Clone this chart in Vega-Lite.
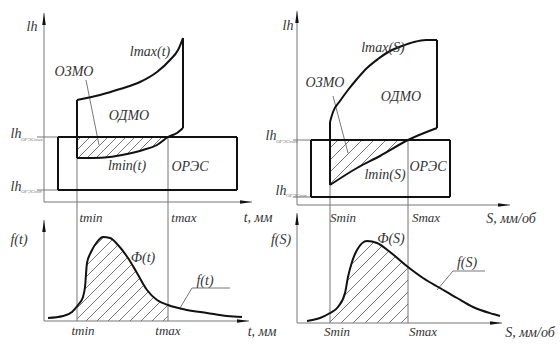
{
"$schema":"https://vega.github.io/schema/vega-lite/v6.json",
"width":560,"height":344,"autosize":"none","padding":0,"background":"white",
"config":{"view":{"stroke":null},"text":{"font":"Liberation Sans Narrow","fontStyle":"italic","color":"#333"}},
"datasets":{
"hatch":[
{"x":77,"y":141,"x2":81,"y2":137},{"x":77,"y":150,"x2":90,"y2":137},{"x":77,"y":159,"x2":99,"y2":137},{"x":86,"y":159,"x2":108,"y2":137},{"x":95,"y":159,"x2":117,"y2":137},{"x":104,"y":159,"x2":126,"y2":137},{"x":113,"y":159,"x2":135,"y2":137},{"x":122,"y":159,"x2":144,"y2":137},{"x":131,"y":159,"x2":153,"y2":137},{"x":140,"y":159,"x2":162,"y2":137},{"x":149,"y":159,"x2":168,"y2":140},{"x":158,"y":159,"x2":168,"y2":149},{"x":167,"y":159,"x2":168,"y2":158},
{"x":330,"y":148,"x2":338,"y2":140},{"x":330,"y":160,"x2":350,"y2":140},{"x":330,"y":172,"x2":362,"y2":140},{"x":330,"y":184,"x2":374,"y2":140},{"x":340,"y":186,"x2":386,"y2":140},{"x":352,"y":186,"x2":398,"y2":140},{"x":364,"y":186,"x2":408,"y2":142},{"x":376,"y":186,"x2":408,"y2":154},{"x":388,"y":186,"x2":408,"y2":166},{"x":400,"y":186,"x2":408,"y2":178},
{"x":77,"y":253,"x2":93,"y2":237},{"x":77,"y":264,"x2":104,"y2":237},{"x":77,"y":275,"x2":115,"y2":237},{"x":77,"y":286,"x2":126,"y2":237},{"x":77,"y":297,"x2":137,"y2":237},{"x":77,"y":308,"x2":148,"y2":237},{"x":77,"y":319,"x2":159,"y2":237},{"x":86,"y":321,"x2":168,"y2":239},{"x":97,"y":321,"x2":168,"y2":250},{"x":108,"y":321,"x2":168,"y2":261},{"x":119,"y":321,"x2":168,"y2":272},{"x":130,"y":321,"x2":168,"y2":283},{"x":141,"y":321,"x2":168,"y2":294},{"x":152,"y":321,"x2":168,"y2":305},{"x":163,"y":321,"x2":168,"y2":316},
{"x":330,"y":250,"x2":340,"y2":240},{"x":330,"y":262,"x2":352,"y2":240},{"x":330,"y":274,"x2":364,"y2":240},{"x":330,"y":286,"x2":376,"y2":240},{"x":330,"y":298,"x2":388,"y2":240},{"x":330,"y":310,"x2":400,"y2":240},{"x":330,"y":322,"x2":408,"y2":244},{"x":341,"y":323,"x2":408,"y2":256},{"x":353,"y":323,"x2":408,"y2":268},{"x":365,"y":323,"x2":408,"y2":280},{"x":377,"y":323,"x2":408,"y2":292},{"x":389,"y":323,"x2":408,"y2":304},{"x":401,"y":323,"x2":408,"y2":316}
],
"curves":[
{"id":"lmaxt","x":77,"y":100},{"id":"lmaxt","x":100,"y":95},{"id":"lmaxt","x":120,"y":89},{"id":"lmaxt","x":140,"y":82},{"id":"lmaxt","x":157,"y":72},{"id":"lmaxt","x":170,"y":60},{"id":"lmaxt","x":178,"y":50},{"id":"lmaxt","x":183,"y":38},
{"id":"lmint","x":77,"y":158},{"id":"lmint","x":93,"y":158},{"id":"lmint","x":110,"y":157},{"id":"lmint","x":127,"y":154},{"id":"lmint","x":143,"y":150},{"id":"lmint","x":157,"y":145},{"id":"lmint","x":168,"y":137},{"id":"lmint","x":177,"y":133},{"id":"lmint","x":183,"y":128},
{"id":"ft","x":48,"y":318},{"id":"ft","x":63,"y":316},{"id":"ft","x":72,"y":312},{"id":"ft","x":78,"y":305},{"id":"ft","x":83,"y":297},{"id":"ft","x":85,"y":287},{"id":"ft","x":87,"y":263},{"id":"ft","x":91,"y":252},{"id":"ft","x":97,"y":242},{"id":"ft","x":103,"y":237},{"id":"ft","x":110,"y":238},{"id":"ft","x":118,"y":245},{"id":"ft","x":128,"y":258},{"id":"ft","x":137,"y":273},{"id":"ft","x":147,"y":290},{"id":"ft","x":157,"y":300},{"id":"ft","x":168,"y":305},{"id":"ft","x":187,"y":310},{"id":"ft","x":207,"y":313},{"id":"ft","x":227,"y":316},{"id":"ft","x":242,"y":317},
{"id":"lmaxs","x":330,"y":122},{"id":"lmaxs","x":333,"y":112},{"id":"lmaxs","x":340,"y":101},{"id":"lmaxs","x":348,"y":90},{"id":"lmaxs","x":357,"y":79},{"id":"lmaxs","x":367,"y":68},{"id":"lmaxs","x":378,"y":59},{"id":"lmaxs","x":390,"y":51},{"id":"lmaxs","x":402,"y":46},{"id":"lmaxs","x":414,"y":42},{"id":"lmaxs","x":426,"y":40},{"id":"lmaxs","x":437,"y":40},
{"id":"lmins","x":330,"y":185},{"id":"lmins","x":357,"y":168},{"id":"lmins","x":380,"y":156},{"id":"lmins","x":408,"y":140},{"id":"lmins","x":437,"y":128},
{"id":"fs","x":307,"y":321},{"id":"fs","x":320,"y":318},{"id":"fs","x":330,"y":313},{"id":"fs","x":338,"y":307},{"id":"fs","x":345,"y":293},{"id":"fs","x":348,"y":277},{"id":"fs","x":352,"y":262},{"id":"fs","x":357,"y":250},{"id":"fs","x":367,"y":241},{"id":"fs","x":377,"y":243},{"id":"fs","x":390,"y":252},{"id":"fs","x":408,"y":267},{"id":"fs","x":423,"y":278},{"id":"fs","x":440,"y":288},{"id":"fs","x":457,"y":298},{"id":"fs","x":473,"y":307},{"id":"fs","x":493,"y":314},{"id":"fs","x":500,"y":316}
],
"thin":[
{"x":44,"y":202,"x2":44,"y2":13},{"x":44,"y":202,"x2":252,"y2":202},{"x":37,"y":137,"x2":58,"y2":137},{"x":37,"y":190,"x2":58,"y2":190},
{"x":77,"y":158,"x2":77,"y2":321},{"x":168,"y":137,"x2":168,"y2":321},
{"x":44,"y":321,"x2":44,"y2":220},{"x":44,"y":321,"x2":249,"y2":321},
{"x":86,"y":80,"x2":99,"y2":145},{"x":180,"y":308,"x2":192,"y2":288},{"x":192,"y":288,"x2":230,"y2":288},
{"x":297,"y":205,"x2":297,"y2":11},{"x":297,"y":205,"x2":510,"y2":205},{"x":293,"y":140,"x2":311,"y2":140},{"x":293,"y":197,"x2":311,"y2":197},
{"x":330,"y":185,"x2":330,"y2":323},{"x":408,"y":140,"x2":408,"y2":323},
{"x":297,"y":323,"x2":297,"y2":213},{"x":297,"y":323,"x2":502,"y2":323},
{"x":333,"y":96,"x2":348,"y2":153},{"x":437,"y":290,"x2":453,"y2":271},{"x":453,"y":271,"x2":485,"y2":271}
],
"thick":[
{"x":58,"y":137,"x2":237,"y2":137},{"x":58,"y":190,"x2":237,"y2":190},{"x":58,"y":137,"x2":58,"y2":190},{"x":237,"y":137,"x2":237,"y2":190},
{"x":77,"y":100,"x2":77,"y2":158},{"x":183,"y":38,"x2":183,"y2":128},
{"x":311,"y":140,"x2":450,"y2":140},{"x":311,"y":197,"x2":450,"y2":197},{"x":311,"y":140,"x2":311,"y2":197},{"x":450,"y":140,"x2":450,"y2":197},
{"x":330,"y":122,"x2":330,"y2":185},{"x":437,"y":40,"x2":437,"y2":128}
],
"arrows":[
{"dir":"up","x":44,"y":19},{"dir":"right","x":246,"y":202},{"dir":"up","x":44,"y":226},{"dir":"right","x":243,"y":321},
{"dir":"up","x":297,"y":17},{"dir":"right","x":504,"y":205},{"dir":"up","x":297,"y":219},{"dir":"right","x":496,"y":323}
],
"labels":[
{"x":32,"y":27,"t":"lh"},{"x":150,"y":52,"t":"lmax(t)"},{"x":74,"y":72,"t":"ОЗМО"},{"x":129,"y":116,"t":"ОДМО"},{"x":127,"y":166,"t":"lmin(t)"},{"x":190,"y":167,"t":"ОРЭС"},
{"x":258,"y":218,"t":"t, мм"},{"x":19,"y":240,"t":"f(t)"},{"x":143,"y":258,"t":"Ф(t)"},{"x":205,"y":281,"t":"f(t)"},{"x":262,"y":332,"t":"t, мм"},
{"x":288,"y":26,"t":"lh"},{"x":383,"y":48,"t":"lmax(S)"},{"x":325,"y":83,"t":"ОЗМО"},{"x":401,"y":97,"t":"ОДМО"},{"x":385,"y":175,"t":"lmin(S)"},{"x":428,"y":167,"t":"ОРЭС"},
{"x":511,"y":219,"t":"S, мм/об"},{"x":281,"y":240,"t":"f(S)"},{"x":391,"y":239,"t":"Ф(S)"},{"x":467,"y":263,"t":"f(S)"},{"x":530,"y":333,"t":"S, мм/об"},
{"x":16,"y":134,"t":"lh"},{"x":16,"y":187,"t":"lh"},{"x":271,"y":136,"t":"lh"},{"x":281,"y":191,"t":"lh"}
],
"ticks":[
{"x":91,"y":218,"t":"tmin"},{"x":184,"y":218,"t":"tmax"},{"x":83,"y":331,"t":"tmin"},{"x":168,"y":331,"t":"tmax"},
{"x":343,"y":218,"t":"Smin"},{"x":426,"y":218,"t":"Smax"},{"x":337,"y":332,"t":"Smin"},{"x":423,"y":332,"t":"Smax"}
],
"subs":[
{"x":21,"y":139,"t":"ОРЭСmax"},{"x":21,"y":191,"t":"ОРЭСmin"},{"x":276,"y":141,"t":"ОРЭСmax"},{"x":286,"y":195,"t":"ОРЭСmin"}
]
},
"encoding":{
"x":{"field":"x","type":"quantitative","scale":{"domain":[0,560],"nice":false,"zero":false},"axis":null},
"y":{"field":"y","type":"quantitative","scale":{"domain":[0,344],"nice":false,"zero":false,"reverse":true},"axis":null}
},
"layer":[
{"data":{"name":"hatch"},"mark":{"type":"rule","stroke":"#555","strokeWidth":0.8},"encoding":{"x2":{"field":"x2"},"y2":{"field":"y2"}}},
{"data":{"name":"curves"},"transform":[{"filter":"datum.id=='lmint'"}],"mark":{"type":"area","fill":"white","interpolate":"monotone"},"encoding":{"y2":{"datum":160}}},
{"data":{"name":"curves"},"transform":[{"filter":"datum.id=='lmins'"}],"mark":{"type":"area","fill":"white","interpolate":"monotone"},"encoding":{"y2":{"datum":187}}},
{"data":{"name":"curves"},"transform":[{"filter":"datum.id=='ft'"}],"mark":{"type":"area","fill":"white","interpolate":"monotone"},"encoding":{"y2":{"datum":236}}},
{"data":{"name":"curves"},"transform":[{"filter":"datum.id=='fs'"}],"mark":{"type":"area","fill":"white","interpolate":"monotone"},"encoding":{"y2":{"datum":239}}},
{"data":{"name":"thin"},"mark":{"type":"rule","stroke":"#777","strokeWidth":1},"encoding":{"x2":{"field":"x2"},"y2":{"field":"y2"}}},
{"data":{"name":"thick"},"mark":{"type":"rule","stroke":"#111","strokeWidth":2},"encoding":{"x2":{"field":"x2"},"y2":{"field":"y2"}}},
{"data":{"name":"curves"},"mark":{"type":"line","stroke":"#111","strokeWidth":2,"interpolate":"monotone"},"encoding":{"detail":{"field":"id"}}},
{"data":{"name":"arrows"},"transform":[{"filter":"datum.dir=='up'"}],"mark":{"type":"point","shape":"M0,-1L0.3,1L-0.3,1Z","filled":true,"fill":"#111","stroke":null,"size":140,"opacity":1}},
{"data":{"name":"arrows"},"transform":[{"filter":"datum.dir=='right'"}],"mark":{"type":"point","shape":"M1,0L-1,0.3L-1,-0.3Z","filled":true,"fill":"#111","stroke":null,"size":140,"opacity":1}},
{"data":{"name":"labels"},"mark":{"type":"text","fontSize":14,"align":"center","baseline":"middle"},"encoding":{"text":{"field":"t"}}},
{"data":{"name":"ticks"},"mark":{"type":"text","fontSize":13,"align":"center","baseline":"middle"},"encoding":{"text":{"field":"t"}}},
{"data":{"name":"subs"},"mark":{"type":"text","fontSize":5,"align":"left","baseline":"middle","color":"#777"},"encoding":{"text":{"field":"t"}}}
]
}
